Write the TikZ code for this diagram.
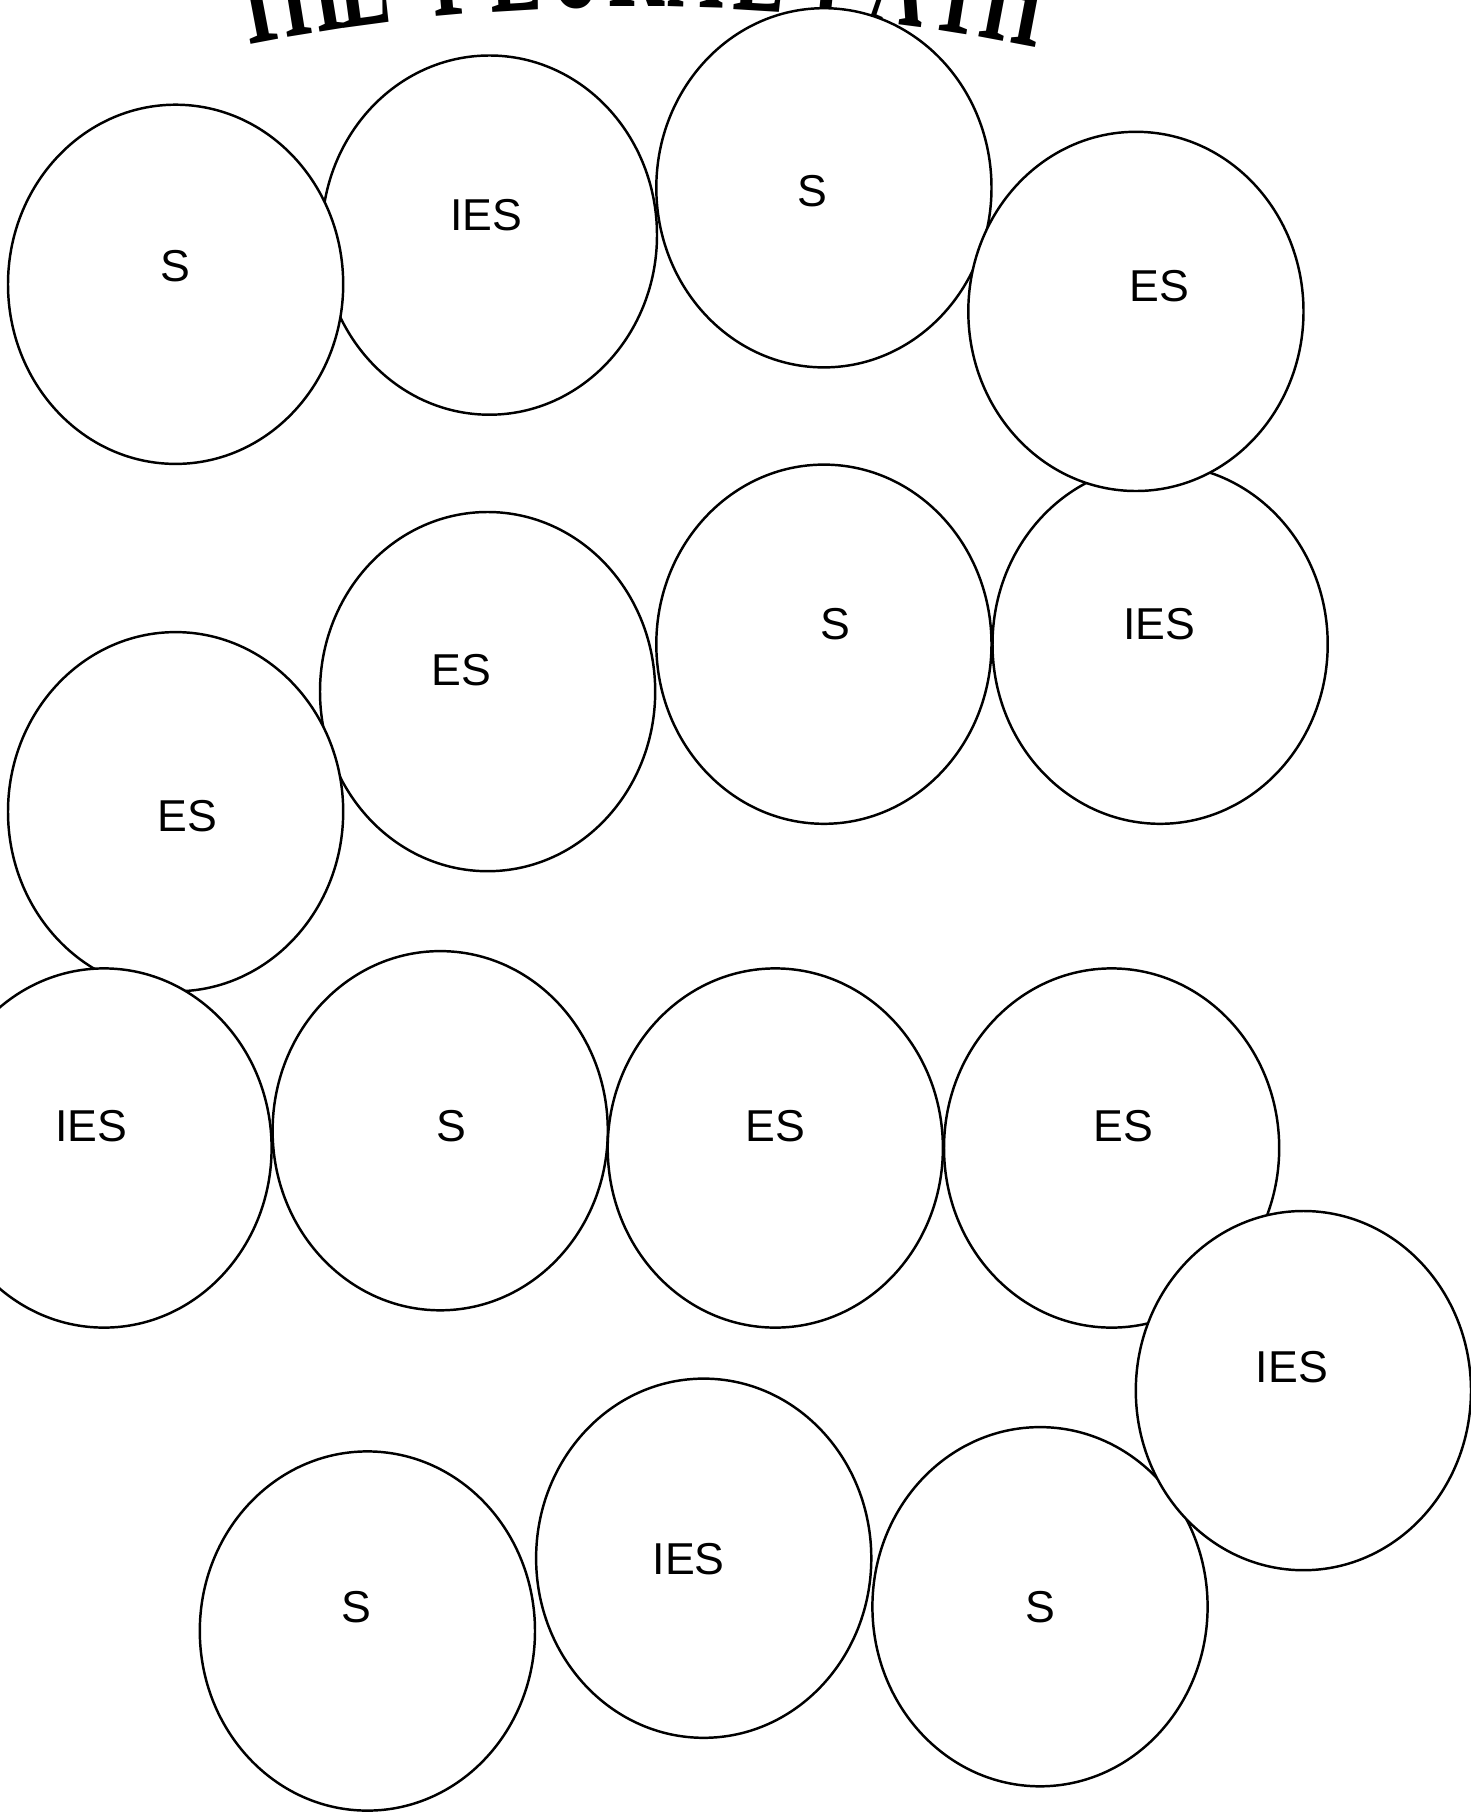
\documentclass[tikz,border=0pt]{standalone}
\usepackage{fontspec}
\usetikzlibrary{shapes.geometric}
\newfontfamily\wordfont{Liberation Sans}
\newfontfamily\titlefont{Liberation Serif}

\tikzset{
	blob/.style={draw, fill=white, ellipse, line width=0.7pt, inner sep=0pt,
		minimum width=3.35cm, minimum height=3.59cm},
	word/.style={font=\wordfont\fontsize{12.7}{15}\selectfont, inner sep=0pt},
	titlechar/.style={font=\titlefont\bfseries\fontsize{40}{40}\selectfont,
		anchor=base, inner sep=0pt}
}

\begin{document}
\begin{tikzpicture}[x=0.01cm, y=-0.01cm]
		
		\useasboundingbox (0,0) rectangle (1471,1812);
		
		% Title, bent along a wide arc
		\coordinate (C) at (636,2008);
		\foreach \ch/\a [count=\i] in {T/10.7, H/9.2, E/7.7, P/5.1, L/3.4, U/1.7, R/0,
			A/-1.7, L/-3.5, P/-5.7, A/-7.4, T/-9.1, H/-10.7}
			\node[titlechar, rotate=\a] (t\i) at ([shift={(90+\a:20cm)}]C) {\scalebox{0.55}[1]{\ch}};
		
		% Row 1
		\node[blob] (c2) at (489.4,235.1) {};
		\node[blob] (c1) at (175.6,284.3) {};
		\node[blob] (c3) at (823.9,187.8) {};
		
		% Row 2
		\node[blob] (c8) at (1160.1,644.2) {};
		\node[blob] (c4) at (1135.9,311.4) {};
		\node[blob] (c6) at (487.6,691.6) {};
		\node[blob] (c5) at (175.6,811.7) {};
		\node[blob] (c7) at (823.9,644.2) {};
		
		% Row 3
		\node[blob] (c9) at (104,1148) {};
		\node[blob] (c10) at (440.2,1130.7) {};
		\node[blob] (c11) at (775.3,1148) {};
		\node[blob] (c12) at (1111.6,1148) {};
		
		% Row 4
		\node[blob] (c14) at (367.4,1631) {};
		\node[blob] (c15) at (703.7,1558.2) {};
		\node[blob] (c16) at (1040,1606.7) {};
		\node[blob] (c13) at (1303.4,1390.6) {};
		
		% Endings
		\node[word] (w1) at (175.6,265.8) {S};
		\node[word] (w2) at (486.5,214.9) {IES};
		\node[word] (w3) at (812.3,190.7) {S};
		\node[word] (w4) at (1159,286.6) {ES};
		\node[word] (w5) at (187.2,815.8) {ES};
		\node[word] (w6) at (461.1,670.2) {ES};
		\node[word] (w7) at (835.4,624) {S};
		\node[word] (w8) at (1159,624) {IES};
		\node[word] (w9) at (91.3,1126.6) {IES};
		\node[word] (w10) at (451.8,1126.6) {S};
		\node[word] (w11) at (775.3,1126.6) {ES};
		\node[word] (w12) at (1123.2,1126.6) {ES};
		\node[word] (w13) at (1291.8,1367) {IES};
		\node[word] (w14) at (355.9,1607.3) {S};
		\node[word] (w15) at (688.7,1558.8) {IES};
		\node[word] (w16) at (1040,1607.3) {S};
		
	\end{tikzpicture}
\end{document}
